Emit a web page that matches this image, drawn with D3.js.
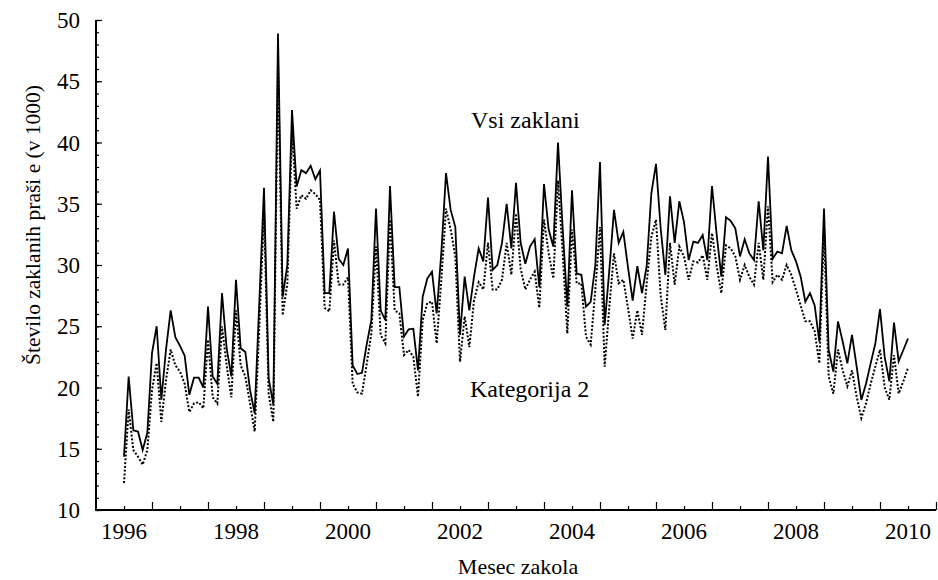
<!DOCTYPE html>
<html>
<head>
<meta charset="utf-8">
<script src="https://cdn.jsdelivr.net/npm/d3@7"></script>
<style>
  html, body { margin: 0; padding: 0; background: #fff; }
</style>
</head>
<body>
<svg id="chart" width="938" height="580"></svg>
<script>
// ---- data (monthly, Jan 1996 .. Jan 2010) ----
const startYear = 1996;
const vsiZaklani = [
  14.35, 20.9, 16.5, 16.4, 14.9, 16.3, 22.8, 25.0, 19.0, 23.1, 26.3, 24.1,
  23.4, 22.6, 19.4, 20.8, 20.8, 20.0, 26.6, 20.9, 20.3, 27.7, 23.2, 20.9,
  28.8, 23.2, 22.9, 19.8, 17.9, 27.0, 36.3, 20.75, 18.6, 48.9, 27.4, 30.0,
  42.65, 36.4, 37.75, 37.5, 38.1, 37.0, 37.7, 27.7, 27.7, 34.35, 30.5, 30.0,
  31.35, 21.8, 21.1, 21.2, 23.5, 25.5, 34.6, 26.3, 25.5, 36.45, 28.2, 28.2,
  24.15, 24.75, 24.8, 21.4, 27.4, 28.9, 29.45, 26.05, 31.0, 37.5, 34.5, 33.1,
  24.3, 29.05, 26.3, 29.05, 31.35, 30.3, 35.5, 29.6, 30.0, 31.8, 35.0, 31.35,
  36.7, 31.8, 30.1, 31.5, 32.1, 28.2, 36.6, 32.9, 31.5, 40.0, 33.0, 26.6,
  36.1, 29.3, 29.2, 26.6, 27.0, 30.0, 38.4, 25.1, 29.6, 34.5, 31.8, 32.7,
  29.8, 27.1, 29.9, 27.7, 29.9, 35.85, 38.25, 33.0, 29.2, 35.6, 31.8, 35.2,
  33.5, 30.4, 31.9, 31.8, 32.45, 30.4, 36.45, 32.5, 29.05, 33.9, 33.6, 33.0,
  30.7, 32.1, 30.95, 30.4, 35.2, 31.2, 38.85, 30.5, 31.1, 30.95, 33.2, 31.2,
  30.3, 29.05, 27.0, 27.7, 26.7, 23.75, 34.6, 23.06, 21.3, 25.4, 23.75, 21.97,
  24.3, 21.7, 18.98, 20.3, 21.97, 23.6, 26.4, 22.5, 20.5, 25.3, 22.15, 23.06,
  24.0
];
const kategorija2 = [
  12.2, 18.2, 14.9, 14.35, 13.7, 14.9, 19.8, 22.0, 17.2, 20.6, 23.1, 21.8,
  21.3, 20.3, 18.0, 18.7, 18.8, 18.3, 23.9, 19.2, 18.7, 25.0, 21.8, 19.2,
  26.3, 21.8, 20.9, 18.7, 16.4, 25.0, 34.5, 19.5, 17.2, 46.5, 25.9, 28.5,
  41.0, 34.6, 35.7, 35.4, 36.1, 35.8, 35.3, 26.5, 26.2, 32.0, 28.4, 28.4,
  29.0, 20.3, 19.6, 19.5, 21.9, 24.4, 31.5, 24.3, 23.6, 33.7, 26.3, 26.05,
  22.65, 23.06, 22.5, 19.25, 25.5, 26.9, 27.0, 23.6, 28.8, 34.6, 32.9, 30.7,
  22.1, 25.8, 23.3, 27.1, 28.6, 28.0, 31.8, 28.0, 28.0, 28.8, 31.8, 29.2,
  34.2, 29.7, 28.0, 28.8, 29.45, 26.5, 33.7, 30.95, 28.9, 36.9, 31.0, 24.4,
  32.9, 28.5, 28.5, 24.15, 23.5, 28.0, 33.1, 21.7, 26.6, 30.95, 28.5, 28.8,
  26.5, 24.0, 26.3, 24.3, 28.5, 32.3, 33.7, 27.5, 24.7, 31.8, 28.4, 31.5,
  30.7, 28.8, 30.3, 30.2, 30.8, 28.8, 32.6, 29.9, 27.7, 31.6, 31.35, 30.7,
  28.8, 30.0, 29.05, 28.4, 31.8, 28.8, 34.8, 28.6, 29.2, 28.8, 30.0, 29.2,
  27.96, 26.7, 25.4, 25.4, 24.6, 21.97, 32.9, 20.9, 19.5, 23.1, 21.4, 20.1,
  21.4, 19.25, 17.5, 18.7, 20.3, 21.7, 23.1, 20.0, 19.0, 22.65, 19.5, 20.5,
  21.6
];
const xTickLabels = [1996, 1998, 2000, 2002, 2004, 2006, 2008, 2010];
const yTickLabels = [10, 15, 20, 25, 30, 35, 40, 45, 50];
const seriesNames = ["Vsi zaklani", "Kategorija 2"];
const xTitle = "Mesec zakola";
const yTitle = "Število zaklanih praši e (v 1000)";

const FONT = "'Liberation Serif', serif";

// ---- layout ----
const svg = d3.select("#chart");
const x = d3.scaleLinear().domain([1995.5, 2010.5]).range([96, 936]);
const y = d3.scaleLinear().domain([10, 50]).range([510, 20]);
const t = i => startYear + i / 12;

const line = d3.line().x((d, i) => x(t(i))).y(d => y(d));

svg.append("path").datum(kategorija2)
  .attr("d", line).attr("fill", "none").attr("stroke", "#000")
  .attr("stroke-width", 2).attr("stroke-dasharray", "2,1.8");
svg.append("path").datum(vsiZaklani)
  .attr("d", line).attr("fill", "none").attr("stroke", "#000")
  .attr("stroke-width", 1.8).attr("stroke-linejoin", "miter");

// y axis
const yAxisMinor = d3.axisRight(y).tickValues(d3.range(10, 51, 1)).tickSize(3).tickFormat("");
const yAxisMajor = d3.axisRight(y).tickValues(yTickLabels).tickSize(6).tickFormat("");
const gy = svg.append("g").attr("transform", "translate(96,0)");
gy.call(yAxisMinor);
gy.append("g").call(yAxisMajor);
gy.selectAll(".domain").remove();
gy.selectAll("line").attr("stroke", "#000").attr("stroke-width", 1.2);

svg.append("line").attr("x1", 96).attr("x2", 96).attr("y1", y(50)).attr("y2", y(10) + 1)
  .attr("stroke", "#000").attr("stroke-width", 2);

svg.append("g").selectAll("text").data(yTickLabels).join("text")
  .style("font-family", FONT)
  .attr("x", 80).attr("y", d => y(d)).attr("dy", "0.35em")
  .attr("text-anchor", "end").attr("font-size", 23).text(d => d);

// x axis
const halfYears = d3.range(1996.5, 2010.51, 1);
const fullYears = d3.range(1996, 2010.01, 1);
const gx = svg.append("g").attr("transform", "translate(0,510)");
gx.call(d3.axisTop(x).tickValues(fullYears).tickSize(4).tickFormat(""));
gx.append("g").call(d3.axisTop(x).tickValues(halfYears).tickSize(8).tickFormat(""));
gx.selectAll(".domain").remove();
gx.selectAll("line").attr("stroke", "#000").attr("stroke-width", 1.2);

svg.append("line").attr("x1", 95).attr("x2", 936).attr("y1", 510).attr("y2", 510)
  .attr("stroke", "#000").attr("stroke-width", 2);

svg.append("g").selectAll("text").data(xTickLabels).join("text")
  .style("font-family", FONT)
  .attr("x", d => x(d)).attr("y", 539)
  .attr("text-anchor", "middle").attr("font-size", 23).text(d => d);

// titles
svg.append("text").style("font-family", FONT).attr("x", 518).attr("y", 574).attr("text-anchor", "middle")
  .attr("font-size", 22).text(xTitle);
svg.append("text").style("font-family", FONT).attr("transform", "translate(40,225) rotate(-90)")
  .attr("text-anchor", "middle").attr("font-size", 21.5).text(yTitle);

// series labels
svg.append("text").style("font-family", FONT).attr("x", 471).attr("y", 128).attr("font-size", 24).text(seriesNames[0]);
svg.append("text").style("font-family", FONT).attr("x", 470).attr("y", 397).attr("font-size", 24).text(seriesNames[1]);
</script>
</body>
</html>
